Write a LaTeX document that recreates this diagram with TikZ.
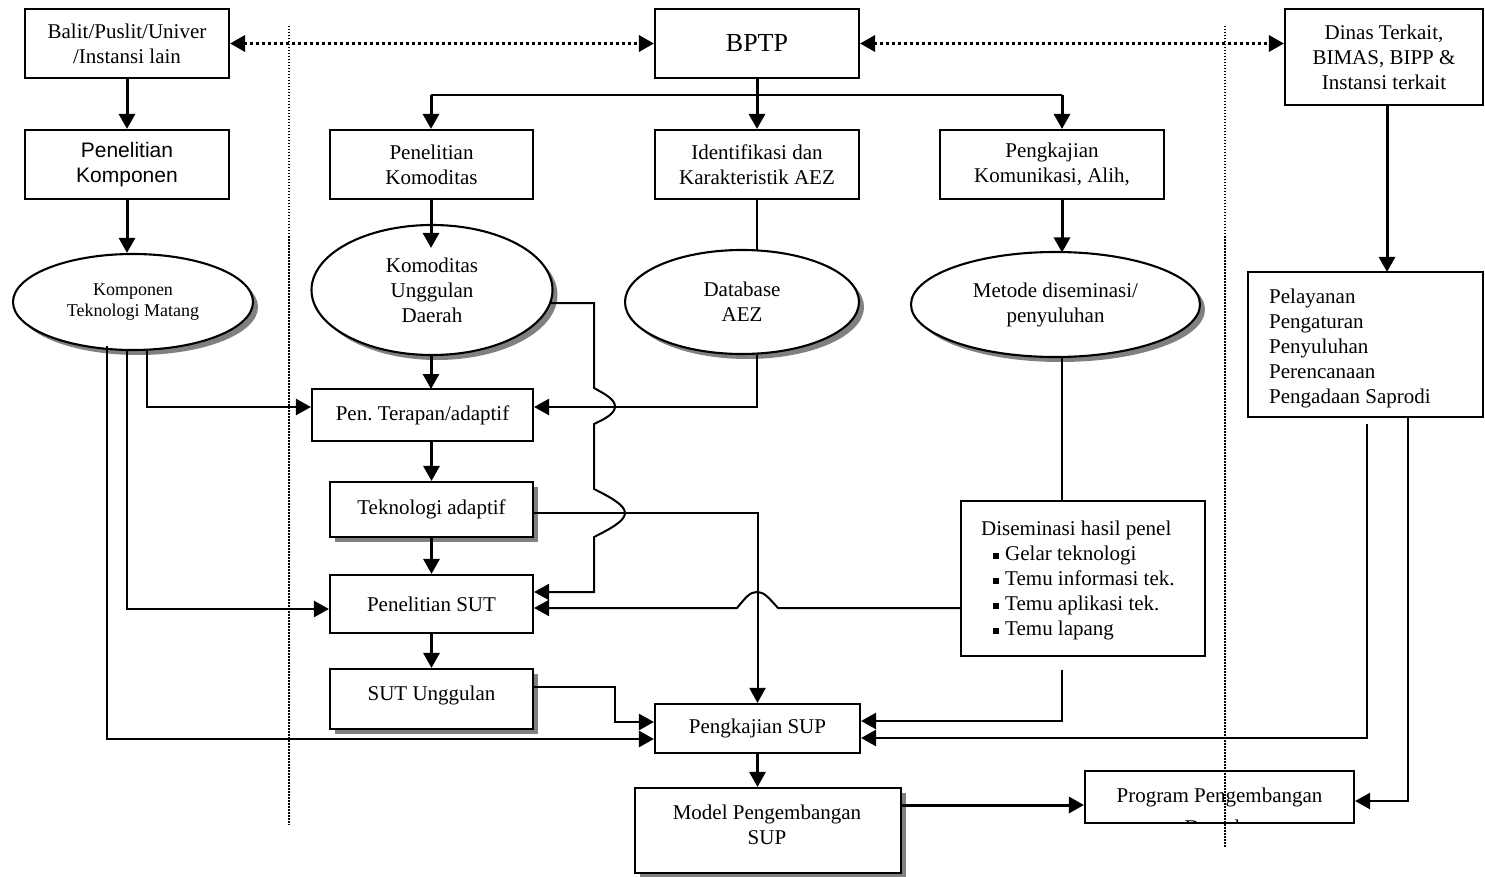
\documentclass[tikz,border=0pt]{standalone}
\usepackage{fontspec}
\setmainfont{Liberation Serif}
\newfontfamily\sansfam{Liberation Sans}
\usetikzlibrary{arrows.meta,shapes.geometric,shadows}
\newcommand{\sqbul}{\hspace*{12pt}\rule[2pt]{6pt}{6pt}\hspace{6pt}}
\begin{document}
\begin{tikzpicture}[x=1pt,y=-1pt,
  txt/.style={font=\fontsize{21}{25}\selectfont},
  box/.style={txt,draw,line width=2.1pt,fill=white,rectangle,inner sep=0pt,align=center},
  shad/.style={drop shadow={shadow xshift=5pt,shadow yshift=-5pt,fill=black!50,opacity=1}},
  oval/.style={box,ellipse,shad},
  tip/.style={-{Triangle[length=15pt,width=16pt]}},
  dtips/.style={{Triangle[length=15pt,width=16pt]}-{Triangle[length=15pt,width=16pt]}},
  conn/.style={line width=3pt},
  thin/.style={line width=2.5pt},
  plain/.style={line width=2pt},
  dots/.style={line width=3.2pt,dash pattern=on 3pt off 3pt},
  sepline/.style={line width=1.5pt,dash pattern=on 1.5pt off 1.5pt},
]
\useasboundingbox (0,0) rectangle (1485,877);

% ---------- boxes ----------
\node[box,minimum width=204pt,minimum height=69pt] (balit) at (127,43.5) {Balit/Puslit/Univer\\/Instansi lain};
\node[box,minimum width=204pt,minimum height=69pt,font=\fontsize{26}{30}\selectfont] (bptp) at (757,43.5) {BPTP};
\node[box,minimum width=198pt,minimum height=96pt] (dinas) at (1384,57) {Dinas Terkait,\\BIMAS, BIPP \&\\Instansi terkait};

\node[box,minimum width=204pt,minimum height=69pt,font=\sansfam\fontsize{21}{25}\selectfont] (penkomp) at (127,164.5) {Penelitian\\Komponen};
\node[box,minimum width=203pt,minimum height=69pt] (penkomod) at (431.5,164.5) {Penelitian\\Komoditas};
\node[box,minimum width=204pt,minimum height=69pt] (ident) at (757,164.5) {Identifikasi dan\\Karakteristik AEZ};
\node[box,minimum width=224pt,minimum height=69pt] (pengkom) at (1052,164.5) {Pengkajian\\Komunikasi, Alih,};

\node[box,minimum width=235pt,minimum height=145pt] (pelay) at (1365.5,344.5) {};
\node[txt,anchor=north west,inner sep=0pt,align=left] (pelaytxt) at (1269,288.5) {Pelayanan\\Pengaturan\\Penyuluhan\\Perencanaan\\Pengadaan Saprodi};

% ---------- ellipses ----------
\node[oval,minimum width=240pt,minimum height=96pt,font=\fontsize{18}{21}\selectfont] (komp) at (133,302) {Komponen\\Teknologi Matang};
\node[oval,minimum width=241pt,minimum height=130pt] (komod) at (432,290) {Komoditas\\Unggulan\\Daerah};
\node[oval,minimum width=234pt,minimum height=104pt] (db) at (742,302) {Database\\AEZ};
\node[oval,minimum width=289pt,minimum height=105pt] (metode) at (1055.5,304.5) {Metode diseminasi/\\penyuluhan};

% ---------- middle column ----------
\node[box,minimum width=221pt,minimum height=52pt] (penter) at (422.5,415) {Pen.\ Terapan/adaptif};
\node[box,shad,minimum width=203pt,minimum height=55pt] (tek) at (431.5,509.5) {Teknologi adaptif};
\node[box,minimum width=203pt,minimum height=58pt] (pensut) at (431.5,604) {Penelitian SUT};
\node[box,shad,minimum width=203pt,minimum height=60pt] (sutu) at (431.5,699) {};
\node[txt] (sututxt) at (431.5,695) {SUT Unggulan};

\node[box,minimum width=244pt,minimum height=155pt] (dis) at (1083,578.5) {};
\node[txt,anchor=north west,inner sep=0pt,align=left] (distxt) at (981,521) {Diseminasi hasil penel\\\sqbul Gelar teknologi\\\sqbul Temu informasi tek.\\\sqbul Temu aplikasi tek.\\\sqbul Temu lapang};

\node[box,minimum width=205pt,minimum height=49pt] (pengsup) at (757.5,728.5) {Pengkajian SUP};
\node[box,shad,minimum width=266pt,minimum height=85pt] (model) at (768,830.5) {};
\node[txt,anchor=north,inner sep=0pt,align=center] (modeltxt) at (767,805) {Model Pengembangan\\SUP};

\node[box,fill=none,minimum width=269pt,minimum height=52pt] (prog) at (1219.5,797) {};
\node[txt,anchor=base] (progtxt) at (1219.5,802) {Program Pengembangan};
\begin{scope}
  \clip (1087,773) rectangle (1352,821);
  \node[txt,anchor=base] (progtxt2) at (1215,834) {Daerah};
\end{scope}

% ---------- connectors ----------
\draw[dots,dtips] (balit.east) -- (bptp.west);
\draw[dots,dtips] (bptp.east) -- (dinas.west |- bptp.east);

\draw[conn,tip] (balit.south) -- (penkomp.north);
\draw[conn,tip] (penkomp.south) -- (penkomp.south |- komp.north);

\coordinate (tl) at (431,95);
\coordinate (tr) at (1062,95);
\draw[plain] (tl) -- (tr);
\draw[conn,tip] (bptp.south) -- (ident.north);
\draw[conn,tip] (tl) -- (tl |- penkomod.north);
\draw[conn,tip] (tr) -- (tr |- pengkom.north);

\draw[conn,tip] (tl |- penkomod.south) -- (431,248);
\draw[plain] (ident.south) -- (757,250.5);
\draw[conn,tip] (tr |- pengkom.south) -- (1062,252.5);
\draw[conn,tip] (1387,105) -- (1387,272);

% from Komponen Teknologi Matang
\draw[thin,tip] ([xshift=14pt]komp.south) |- ([yshift=8pt]penter.west);
\draw[thin,tip] ([xshift=-6pt]komp.south) |- ([yshift=-5pt]pensut.west);
\draw[thin,tip] ([xshift=-26pt,yshift=5pt]komp.south) |- ([yshift=-10.5pt]pengsup.west);

% middle chain
\draw[conn,tip] (431,355) -- (431,389);
\draw[conn,tip] (tek.north |- penter.south) -- (tek.north);
\draw[conn,tip] (tek.south) -- (pensut.north);
\draw[conn,tip] (pensut.south) -- (sutu.north);

% Database -> Pen. Terapan
\draw[thin,tip] ([xshift=15pt]db.south) |- ([yshift=8pt]penter.east);

% Komoditas -> Penelitian SUT (with bumps)
\draw[plain,tip] (550.5,303) -- (594,303) -- (594,388)
  .. controls (607,395) and (615,400) .. (615,406.5)
  .. controls (615,413) and (607,418) .. (594,424)
  -- (594,489)
  .. controls (610,497) and (625,505) .. (625,513)
  .. controls (625,521) and (610,529) .. (594,537)
  -- (594,592) -- ([yshift=12pt]pensut.east);

% Teknologi adaptif -> Pengkajian SUP
\draw[plain,tip] ([yshift=-3.5pt]tek.east) -| (pengsup.north);

% Metode -> Diseminasi
\draw[plain] ([xshift=6.5pt]metode.south) -- ([xshift=-21pt]dis.north);

% Diseminasi -> Penelitian SUT (with hop)
\draw[plain,tip] ([yshift=-29.5pt]dis.west) -- (778,608)
  .. controls (768,597) and (764,592) .. (757,592)
  .. controls (750,592) and (746,597) .. (737,608)
  -- ([yshift=-4pt]pensut.east);

% Diseminasi -> Pengkajian SUP
\draw[thin,tip] ([xshift=-21pt,yshift=-13pt]dis.south) |- ([yshift=7.5pt]pengsup.east);

% SUT Unggulan -> Pengkajian SUP
\draw[thin,tip] ([yshift=12pt]sutu.east) -- (615,687) |- ([yshift=6.5pt]pengsup.west);

% Pelayanan -> Pengkajian SUP / Program
\draw[thin,tip] ([xshift=1.5pt,yshift=-6pt]pelay.south) |- ([yshift=-9.5pt]pengsup.east);
\draw[thin,tip] ([xshift=42.5pt]pelay.south) |- ([yshift=-4pt]prog.east);

% Pengkajian SUP -> Model -> Program
\draw[conn,tip] (pengsup.south) -- (pengsup.south |- model.north);
\draw[conn,tip] ([yshift=25.5pt]model.east) -- ([yshift=-8pt]prog.west);

% ---------- separators ----------
\draw[sepline] (289,26) -- (289,825);
\draw[sepline] (1225,26) -- (1225,848);
\end{tikzpicture}
\end{document}
